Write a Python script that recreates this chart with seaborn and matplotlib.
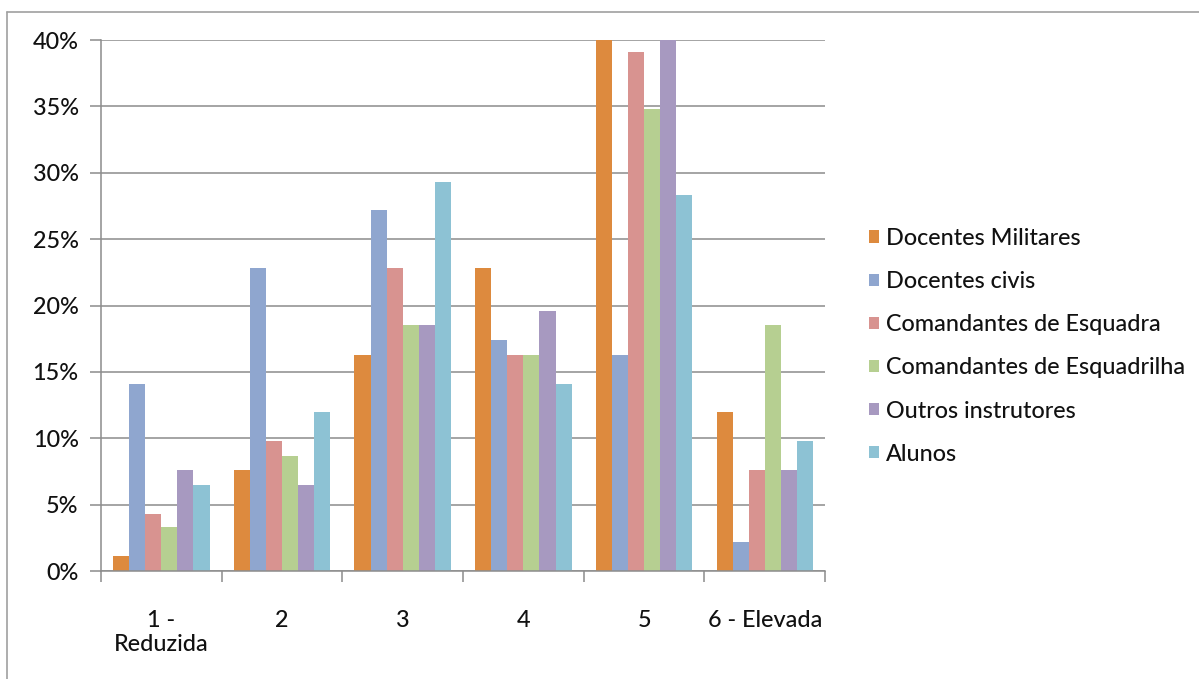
import matplotlib
matplotlib.use("Agg")
import matplotlib.pyplot as plt
from matplotlib.lines import Line2D
from matplotlib.ticker import PercentFormatter, FixedLocator
import seaborn as sns
import pandas as pd

categories = ["1 -\nReduzida", "2", "3", "4", "5", "6 - Elevada"]
groups = ["Docentes Militares", "Docentes civis", "Comandantes de Esquadra",
          "Comandantes de Esquadrilha", "Outros instrutores", "Alunos"]

docentes_militares = [1.1, 7.6, 16.3, 22.8, 40.0, 12.0]
docentes_civis = [14.1, 22.8, 27.2, 17.4, 16.3, 2.2]
cmd_esquadra = [4.3, 9.8, 22.8, 16.3, 39.1, 7.6]
cmd_esquadrilha = [3.3, 8.7, 18.5, 16.3, 34.8, 18.5]
outros_instrutores = [7.6, 6.5, 18.5, 19.6, 40.0, 7.6]
alunos = [6.5, 12.0, 29.3, 14.1, 28.3, 9.8]

colors = ["#DD8A3E", "#8FA6CF", "#D89390", "#B6CF91", "#A799C0", "#8DC2D4"]

series = [docentes_militares, docentes_civis, cmd_esquadra,
          cmd_esquadrilha, outros_instrutores, alunos]
rows = []
for g, vals in zip(groups, series):
    for c, v in zip(categories, vals):
        rows.append({"categoria": c, "grupo": g, "valor": v})
df = pd.DataFrame(rows)

sns.set_style("white")
plt.rcParams["font.family"] = ["Lato", "DejaVu Sans"]
plt.rcParams["font.weight"] = "medium"
plt.rcParams["text.color"] = "#111111"
plt.rcParams["xtick.color"] = "#111111"
plt.rcParams["ytick.color"] = "#111111"

FS = 16.8

fig = plt.figure(figsize=(11.99, 6.79), dpi=100)
ax = fig.add_axes([0.0842, 0.159, 0.604, 0.782])

sns.barplot(data=df, x="categoria", y="valor", hue="grupo",
            order=categories, hue_order=groups, palette=colors,
            linewidth=0, saturation=1, errorbar=None, ax=ax)

ax.set_ylim(0, 40)
ax.set_xlim(-0.5, len(categories) - 0.5)
ax.set_yticks(range(0, 41, 5))
ax.yaxis.set_major_formatter(PercentFormatter(decimals=0))
ax.set_xlabel("")
ax.set_ylabel("")

grid_color = "#8c8c8c"
ax.yaxis.grid(True, color=grid_color, linewidth=1.1)
ax.set_axisbelow(True)
for side in ("top", "right"):
    ax.spines[side].set_visible(False)
for side in ("left", "bottom"):
    ax.spines[side].set_color(grid_color)
    ax.spines[side].set_linewidth(1.1)

ax.tick_params(axis="y", which="major", length=8, width=1.1, color=grid_color,
               labelsize=FS, pad=8, direction="out", left=True)
ax.tick_params(axis="x", which="major", length=0, labelsize=FS, pad=28)
ax.xaxis.set_minor_locator(FixedLocator([i - 0.5 for i in range(len(categories) + 1)]))
ax.tick_params(axis="x", which="minor", length=8, width=1.1, color=grid_color,
               direction="out", bottom=True)
for lbl in ax.get_xticklabels():
    lbl.set_verticalalignment("top")
    lbl.set_linespacing(1.2)

handles, labels = ax.get_legend_handles_labels()
ax.legend(handles, labels, loc="center left", bbox_to_anchor=(0.717, 0.490),
          bbox_transform=fig.transFigure, frameon=False, fontsize=FS,
          handlelength=0.42, handleheight=0.42, handletextpad=0.3,
          labelspacing=0.95, borderaxespad=0)

# outer chart frame
fig.add_artist(Line2D([7 / 1199, 7 / 1199], [0, 1 - 12 / 679],
                      transform=fig.transFigure, color="#a0a0a0", linewidth=1.2))
fig.add_artist(Line2D([7 / 1199, 1], [1 - 12 / 679, 1 - 12 / 679],
                      transform=fig.transFigure, color="#a0a0a0", linewidth=1.2))

fig.savefig("out.png", dpi=100)
